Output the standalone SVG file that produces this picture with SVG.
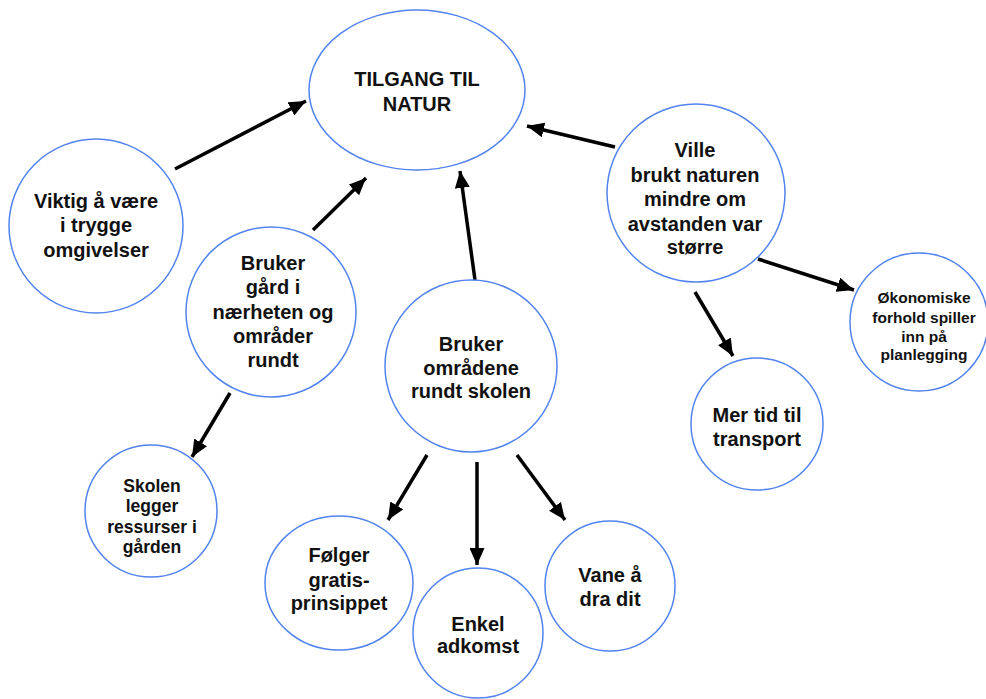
<svg xmlns="http://www.w3.org/2000/svg" width="986" height="699" viewBox="0 0 986 699">
  <style>
    .node { fill: #ffffff; stroke: #5283ef; stroke-width: 1.5; }
    .lbl { font-family: "Liberation Sans", Arial, sans-serif; font-weight: bold; font-size: 20px; fill: #111111; text-anchor: middle; }
    .sm { font-size: 17.5px; }
    .xs { font-size: 15.5px; }
    .edge { stroke: #000000; stroke-width: 3.5; fill: none; marker-end: url(#head); }
  </style>
  <defs>
    <marker id="head" viewBox="0 0 17 15" refX="17" refY="7.5" markerWidth="17" markerHeight="15" markerUnits="userSpaceOnUse" orient="auto">
      <path d="M0,0 L17,7.5 L0,15 Z" fill="#000000"/>
    </marker>
  </defs>
  <rect width="986" height="699" fill="#ffffff"/>

  <g id="connectors">
    <line class="edge" x1="175" y1="169" x2="306" y2="101"/>
    <line class="edge" x1="313" y1="230" x2="366" y2="178"/>
    <line class="edge" x1="475" y1="280" x2="460" y2="171"/>
    <line class="edge" x1="615" y1="147" x2="527" y2="126"/>
    <line class="edge" x1="758" y1="259" x2="854" y2="290"/>
    <line class="edge" x1="695" y1="292" x2="733" y2="356"/>
    <line class="edge" x1="230" y1="393" x2="192" y2="457"/>
    <line class="edge" x1="427" y1="455" x2="388" y2="520"/>
    <line class="edge" x1="477" y1="462" x2="477" y2="565"/>
    <line class="edge" x1="517" y1="455" x2="565" y2="520"/>
  </g>

  <g id="tilgang">
    <ellipse class="node" cx="417" cy="90" rx="108" ry="80"/>
    <text class="lbl" x="417" y="86">TILGANG TIL</text>
    <text class="lbl" x="417" y="111">NATUR</text>
  </g>

  <g id="trygge">
    <circle class="node" cx="96" cy="226" r="87"/>
    <text class="lbl" x="96" y="208">Viktig å være</text>
    <text class="lbl" x="96" y="232">i trygge</text>
    <text class="lbl" x="96" y="257">omgivelser</text>
  </g>

  <g id="gard">
    <circle class="node" cx="271" cy="312" r="85"/>
    <text class="lbl" x="273" y="270">Bruker</text>
    <text class="lbl" x="273" y="294">gård i</text>
    <text class="lbl" x="273" y="319">nærheten og</text>
    <text class="lbl" x="273" y="343">områder</text>
    <text class="lbl" x="273" y="367">rundt</text>
  </g>

  <g id="omradene">
    <circle class="node" cx="471" cy="366" r="86"/>
    <text class="lbl" x="471" y="351">Bruker</text>
    <text class="lbl" x="471" y="375">områdene</text>
    <text class="lbl" x="471" y="398">rundt skolen</text>
  </g>

  <g id="avstand">
    <circle class="node" cx="696" cy="193" r="89"/>
    <text class="lbl" x="695" y="157">Ville</text>
    <text class="lbl" x="695" y="182">brukt naturen</text>
    <text class="lbl" x="695" y="206">mindre om</text>
    <text class="lbl" x="695" y="231">avstanden var</text>
    <text class="lbl" x="695" y="254">større</text>
  </g>

  <g id="okonomi">
    <circle class="node" cx="919" cy="322" r="69"/>
    <text class="lbl xs" x="924" y="303">Økonomiske</text>
    <text class="lbl xs" x="924" y="323">forhold spiller</text>
    <text class="lbl xs" x="924" y="342">inn på</text>
    <text class="lbl xs" x="924" y="360">planlegging</text>
  </g>

  <g id="transport">
    <circle class="node" cx="757" cy="424" r="66"/>
    <text class="lbl" x="757" y="422">Mer tid til</text>
    <text class="lbl" x="757" y="446">transport</text>
  </g>

  <g id="ressurser">
    <circle class="node" cx="151" cy="511" r="66"/>
    <text class="lbl sm" x="152" y="492">Skolen</text>
    <text class="lbl sm" x="152" y="512">legger</text>
    <text class="lbl sm" x="152" y="533">ressurser i</text>
    <text class="lbl sm" x="152" y="553">gården</text>
  </g>

  <g id="gratis">
    <ellipse class="node" cx="339" cy="583" rx="74" ry="67"/>
    <text class="lbl" x="339" y="562">Følger</text>
    <text class="lbl" x="339" y="587">gratis-</text>
    <text class="lbl" x="339" y="610">prinsippet</text>
  </g>

  <g id="adkomst">
    <circle class="node" cx="478" cy="633" r="65"/>
    <text class="lbl" x="478" y="631">Enkel</text>
    <text class="lbl" x="478" y="653">adkomst</text>
  </g>

  <g id="vane">
    <circle class="node" cx="610" cy="586" r="65"/>
    <text class="lbl" x="610" y="582">Vane å</text>
    <text class="lbl" x="610" y="606">dra dit</text>
  </g>
</svg>
